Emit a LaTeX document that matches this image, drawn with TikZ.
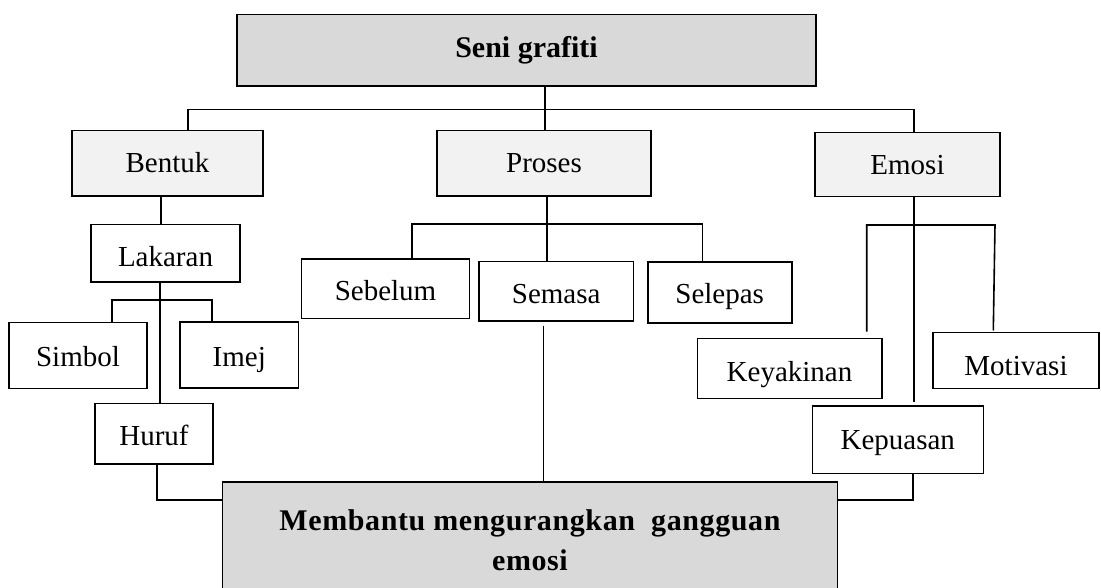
\documentclass[tikz,border=0pt]{standalone}
\usepackage{fontspec}
\setmainfont{Liberation Serif}
\usetikzlibrary{calc}
\definecolor{headfill}{HTML}{D9D9D9}
\definecolor{catfill}{HTML}{F2F2F2}
\begin{document}
\begin{tikzpicture}[x=1pt, y=-1pt,
		box/.style={draw, line width=1.6pt, inner sep=0pt, font=\fontsize{29}{34}\selectfont},
		main node/.style={box, fill=headfill, font=\fontsize{30}{40}\selectfont\bfseries},
		cat node/.style={box, fill=catfill},
		leaf node/.style={box, fill=white},
		lift/.style={text height=#1pt, text depth=0pt},
		link/.style={line width=1.6pt}]
		
		\useasboundingbox (0,0) rectangle (1101,588);
		
		% boxes
		\node[main node, minimum width=579pt, minimum height=71.3pt, lift=14] (root) at (526.5,50.3) {Seni grafiti};
		\node[cat node, minimum width=191pt, minimum height=65.6pt, lift=18.4] (bentuk) at (167.5,163.5) {Bentuk};
		\node[cat node, minimum width=214pt, minimum height=65.6pt, lift=18.4] (proses) at (544,163.5) {Proses};
		\node[cat node, minimum width=185pt, minimum height=64pt, lift=20.6] (emosi) at (907.5,164.7) {Emosi};
		\node[leaf node, minimum width=149pt, minimum height=57.7pt, lift=27] (lakaran) at (165.5,253.2) {Lakaran};
		\node[leaf node, minimum width=138pt, minimum height=66pt, lift=21.4] (simbol) at (78,355.3) {Simbol};
		\node[leaf node, minimum width=118.5pt, minimum height=65.7pt, lift=22.4] (imej) at (239.25,354.85) {Imej};
		\node[leaf node, minimum width=118pt, minimum height=60.7pt, lift=24] (huruf) at (154,433.65) {Huruf};
		\node[leaf node, minimum width=168pt, minimum height=59pt, lift=24] (sebelum) at (385.5,288.8) {Sebelum};
		\node[leaf node, minimum width=154.3pt, minimum height=59pt, lift=24] (semasa) at (556.2,291.2) {Semasa};
		\node[leaf node, minimum width=144pt, minimum height=61pt, lift=22] (selepas) at (719.7,292.5) {Selepas};
		\node[leaf node, minimum width=184.4pt, minimum height=60pt, lift=26.8] (keyakinan) at (789.5,368.3) {Keyakinan};
		\node[leaf node, minimum width=166pt, minimum height=56pt, lift=29.4] (motivasi) at (1016,360.3) {Motivasi};
		\node[leaf node, minimum width=171pt, minimum height=67.3pt, lift=20.6] (kepuasan) at (897.8,439.65) {Kepuasan};
		\node[main node, minimum width=615pt, minimum height=116pt, align=center,
		font=\fontsize{30}{40}\selectfont\bfseries\addfontfeature{LetterSpace=2}] (result) at (530,540)
		{Membantu mengurangkan\ \ gangguan\\emosi};
		
		% top level
		\coordinate (rootdrop) at (545,109.7);
		\coordinate (busA) at (188,109.7);
		\coordinate (busB) at (914,109.7);
		\draw[link] (root.south -| rootdrop) -- (proses.north -| rootdrop);
		\draw[link] (bentuk.north -| busA) -- (busA) -- (busB) -- (emosi.north -| busB);
		
		% Bentuk
		\coordinate (bentukdrop) at (161,0);
		\coordinate (lakarandrop) at (160,0);
		\coordinate (symL) at (112,300);
		\coordinate (symR) at (212,300);
		\coordinate (hurufdrop) at (157,500);
		\draw[link] (bentuk.south -| bentukdrop) -- (lakaran.north -| bentukdrop);
		\draw[link] (lakaran.south -| lakarandrop) -- (huruf.north -| lakarandrop);
		\draw[link] (simbol.north -| symL) -- (symL) -- (symR) -- (imej.north -| symR);
		\draw[link] (huruf.south -| hurufdrop) -- (hurufdrop) -- (result.west |- hurufdrop);
		
		% Proses
		\coordinate (prosdrop) at (547,0);
		\coordinate (prosL) at (411.7,224.3);
		\coordinate (prosR) at (702.3,224.3);
		\coordinate (semasadrop) at (543.5,0);
		\draw[link] (proses.south -| prosdrop) -- (semasa.north -| prosdrop);
		\draw[link] (sebelum.north -| prosL) -- (prosL) -- (prosR) -- (selepas.north -| prosR);
		\draw[link] ($(semasa.south -| semasadrop)+(0,4)$) -- (result.north -| semasadrop);
		
		% Emosi
		\coordinate (emoL) at (866.7,225);
		\coordinate (emoM) at (914,225);
		\coordinate (emoR) at (995,225);
		\coordinate (emoRend) at (993.3,0);
		\coordinate (kepdrop) at (912.7,500);
		\draw[link] (emosi.south -| emoM) -- (emoM);
		\draw[link] ($(keyakinan.north -| emoL)+(0,-6)$) -- (emoL) -- (emoR) -- ($(motivasi.north -| emoRend)+(0,-1)$);
		\draw[link] (emoM) -- ($(kepuasan.north -| emoM)+(0,-3)$);
		\draw[link] (kepuasan.south -| kepdrop) -- (kepdrop) -- (result.east |- kepdrop);
\end{tikzpicture}
\end{document}
